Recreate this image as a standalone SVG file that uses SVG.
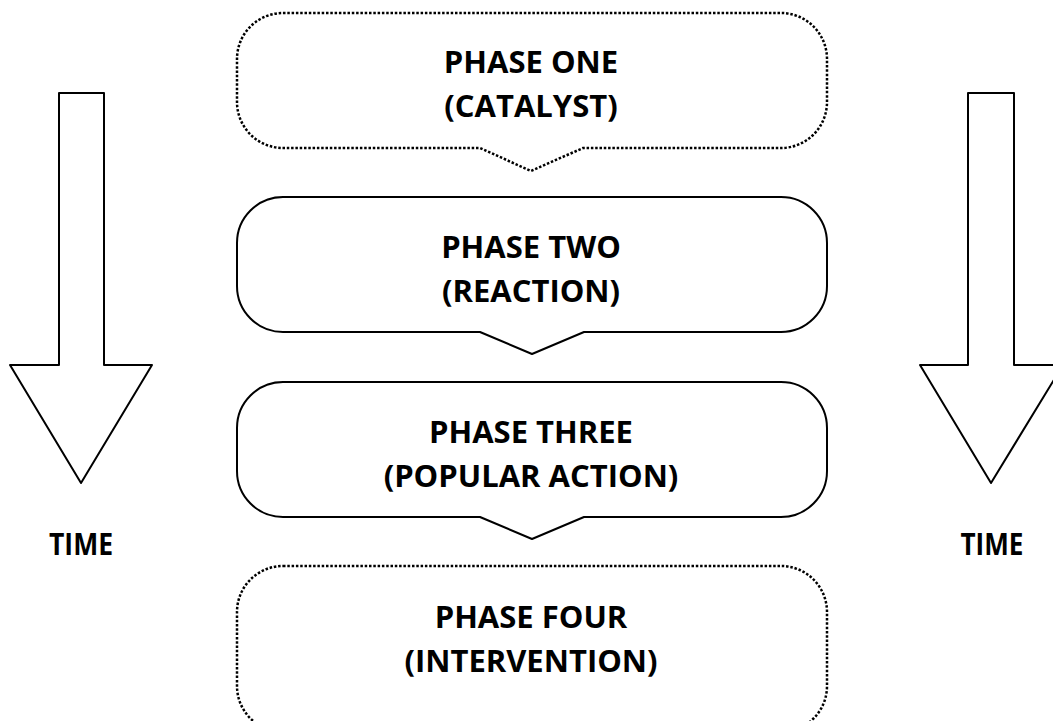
<svg xmlns="http://www.w3.org/2000/svg" width="1053" height="721" viewBox="0 0 1053 721">
<style>
.sh{fill:#fff;stroke:#000;stroke-width:2;stroke-linejoin:round}
.dot{stroke-width:2.5;stroke-dasharray:2.5 1.8}
.t{font-family:"Open Sans","Liberation Sans",sans-serif;font-weight:bold;font-size:31px;fill:#000;text-anchor:middle}
</style>
<rect width="1053" height="721" fill="#fff"/>
<g id="connectors">
<path id="arrow-left" class="sh" d="M59,93 H104 V365 H152 L81,483 L10,365 H59 Z"/>
<path id="arrow-right" class="sh" d="M968,93 H1014 V365 H1063 L991,483 L920,365 H968 Z"/>
</g>
<g id="time-left"><text class="t" x="81" y="555" textLength="64" lengthAdjust="spacingAndGlyphs">TIME</text></g>
<g id="time-right"><text class="t" x="992" y="555" textLength="63" lengthAdjust="spacingAndGlyphs">TIME</text></g>
<g id="phase-one">
<path class="sh dot" d="M283,13 H781 A46,46 0 0 1 827,59 V102 A46,46 0 0 1 781,148 H583 L531,171 L480,148 H283 A46,46 0 0 1 237,102 V59 A46,46 0 0 1 283,13 Z"/>
<text class="t" x="531" y="73">PHASE ONE</text>
<text class="t" x="531" y="117">(CATALYST)</text>
</g>
<g id="phase-two">
<path class="sh" d="M283,197 H781 A46,46 0 0 1 827,243 V286 A46,46 0 0 1 781,332 H584 L532,354 L480,332 H283 A46,46 0 0 1 237,286 V243 A46,46 0 0 1 283,197 Z"/>
<text class="t" x="531" y="258">PHASE TWO</text>
<text class="t" x="531" y="302">(REACTION)</text>
</g>
<g id="phase-three">
<path class="sh" d="M283,382 H781 A46,46 0 0 1 827,428 V471 A46,46 0 0 1 781,517 H584 L532,539 L480,517 H283 A46,46 0 0 1 237,471 V428 A46,46 0 0 1 283,382 Z"/>
<text class="t" x="531" y="443">PHASE THREE</text>
<text class="t" x="531" y="487">(POPULAR ACTION)</text>
</g>
<g id="phase-four">
<path class="sh dot" d="M283,566 H781 A46,46 0 0 1 827,612 V686 A46,46 0 0 1 781,732 H283 A46,46 0 0 1 237,686 V612 A46,46 0 0 1 283,566 Z"/>
<text class="t" x="531" y="628">PHASE FOUR</text>
<text class="t" x="531" y="672">(INTERVENTION)</text>
</g>
</svg>
